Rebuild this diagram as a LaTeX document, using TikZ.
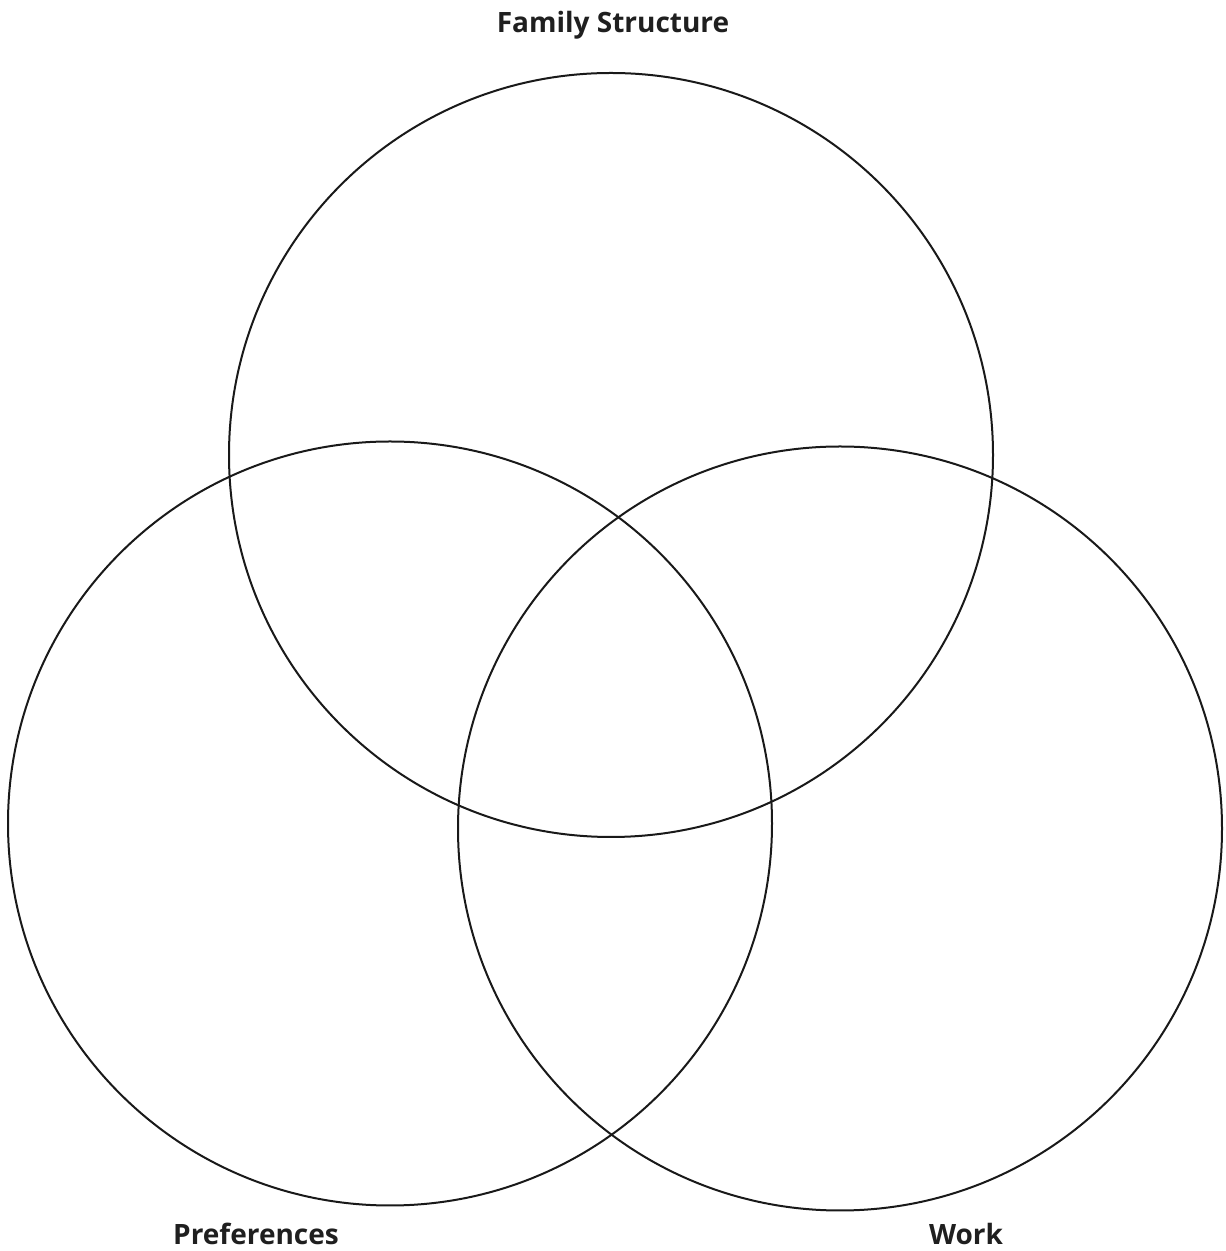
\documentclass[tikz,border=0pt]{standalone}
\usepackage{fontspec}
\setmainfont{Open Sans}
\begin{document}
\begin{tikzpicture}[x=1pt,y=1pt,
  ring/.style={draw=black!90,line width=2pt},
  lbl/.style={font=\bfseries\fontsize{28}{32}\selectfont,text=black!88,anchor=base,inner sep=0pt}]
\useasboundingbox (0,0) rectangle (1226,1251);
\draw[ring] (611,796) circle[radius=382];
\draw[ring] (390,427.5) circle[radius=382];
\draw[ring] (840,422.5) circle[radius=382];
\node[lbl] (fam) at (613,1218) {Family Structure};
\node[lbl] (pref) at (256,6) {Preferences};
\node[lbl] (work) at (966,6) {Work};
\end{tikzpicture}
\end{document}
